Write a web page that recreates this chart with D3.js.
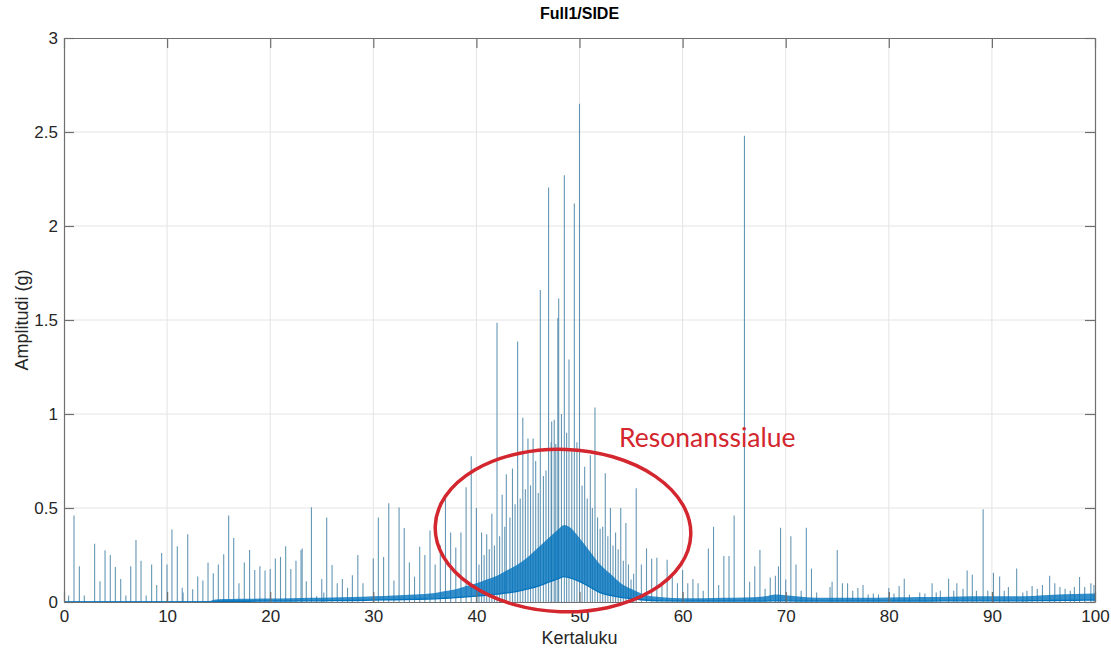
<!DOCTYPE html>
<html>
<head>
<meta charset="utf-8">
<script src="https://cdn.jsdelivr.net/npm/d3@7"></script>
<style>
  html, body { margin: 0; padding: 0; background: #fff; }
  svg { display: block; }
</style>
</head>
<body>
<svg id="chart" width="1111" height="653"></svg>
<script>
// Order spectrum of the SIDE channel: discrete harmonic lines plus a broadband noise floor.

const chartTitle = "Full1/SIDE";
const xLabel = "Kertaluku";
const yLabel = "Amplitudi (g)";
const xTicks = [0, 10, 20, 30, 40, 50, 60, 70, 80, 90, 100];
const yTicks = [0, 0.5, 1, 1.5, 2, 2.5, 3];
const yTickLabels = ["0", "0.5", "1", "1.5", "2", "2.5", "3"];

// Harmonic lines: order and amplitude (g)
const lineOrders = [
  0.45, 0.97, 1.49, 1.97, 2.97, 3.49, 3.98, 4.49, 4.98, 5.5, 6.0, 6.47, 6.98, 7.47, 7.97, 8.5, 8.99, 9.47, 9.99,
  10.47, 10.99, 11.47, 11.55, 12.0, 12.48, 12.97, 13.47, 13.97, 14.48, 14.97, 15.49, 15.97, 16.46, 16.97, 17.49,
  18.0, 18.5, 19.0, 19.5, 20.0, 20.5, 21.0, 21.5, 22.0, 22.5, 22.99, 23.1, 23.5, 24.0, 24.5, 25.0, 25.2, 25.48,
  26.0, 26.5, 27.0, 27.5, 27.97, 28.5, 29.0,
  30.0, 30.49, 31.0, 31.5, 32.0, 32.5, 33.0, 33.5, 34.0, 34.5, 35.0, 35.5, 36.0, 36.5, 37.0,
  37.5, 38.0, 38.5, 39.0, 39.5, 40.0, 40.5, 41.0, 41.5, 42.0, 42.5, 42.9, 43.5, 44.0, 44.5, 45.0,
  40.25, 40.75, 41.25, 41.75, 42.25, 42.75, 43.25, 43.75, 44.25, 44.75, 45.25,
  45.5, 45.75, 46.0, 46.2, 46.5, 46.75, 47.0, 47.25, 47.3, 47.55, 47.7, 47.9, 47.98, 48.25, 48.53, 48.75,
  48.98, 49.25, 49.5, 49.75, 50.0, 50.25, 50.5, 50.75, 51.05, 51.25, 51.5, 51.75, 52.0, 52.25, 52.5, 52.75,
  53.0, 53.25, 53.5, 53.75, 54.0, 54.25, 54.5, 54.75, 55.0, 55.25, 55.5, 56.0, 56.5, 57.0, 57.5, 58.0, 58.5,
  59.0, 59.5, 60.0, 60.5, 61.0, 61.5, 62.0, 62.5, 63.0, 63.5, 64.0, 64.5, 65.0, 66.0,
  66.5, 67.0, 67.5, 68.0, 68.5, 69.0, 69.3, 69.5, 70.0, 70.5, 71.0, 71.5, 72.0, 72.5, 73.0, 74.3, 74.5, 75.0,
  75.5, 76.0, 76.5, 77.0, 77.5, 78.0, 78.5, 79.0, 80.0, 80.5, 81.0, 81.5, 82.0, 83.0, 83.5, 84.2, 84.6, 85.0,
  85.8, 86.3, 86.6, 87.2, 87.6, 88.1, 88.5, 89.15, 89.6, 90.15, 90.75, 91.2, 91.6, 92.4, 93.0, 93.4, 93.9,
  94.4, 94.9, 95.6, 96.1, 96.6, 97.1, 97.6, 98.0, 98.5, 99.0, 99.6, 99.9
];
const lineAmps = [
  0.034, 0.46, 0.19, 0.034, 0.31, 0.11, 0.275, 0.25, 0.186, 0.122, 0.034, 0.19, 0.33, 0.22, 0.034, 0.2, 0.09, 0.26, 0.2,
  0.385, 0.296, 0.076, 0.05, 0.36, 0.068, 0.135, 0.115, 0.21, 0.153, 0.2, 0.254, 0.46, 0.34, 0.1, 0.21,
  0.277, 0.17, 0.19, 0.167, 0.175, 0.232, 0.24, 0.296, 0.175, 0.22, 0.277, 0.285, 0.11, 0.504, 0.03, 0.122, 0.05, 0.45,
  0.197, 0.1, 0.122, 0.076, 0.142, 0.25, 0.1,
  0.232, 0.449, 0.24, 0.525, 0.115, 0.502, 0.394, 0.21, 0.135, 0.294, 0.25, 0.38, 0.2, 0.3, 0.573,
  0.37, 0.29, 0.37, 0.61, 0.775, 0.5, 0.37, 0.36, 0.47, 1.485, 0.57, 0.68, 0.71, 1.385, 0.98, 0.87,
  0.2, 0.25, 0.28, 0.3, 0.35, 0.4, 0.45, 0.52, 0.55, 0.6, 0.62,
  0.87, 0.75, 0.58, 1.66, 0.67, 0.7, 2.205, 0.85, 0.96, 0.97, 0.84, 1.51, 1.615, 1.0, 2.27, 0.9,
  1.29, 0.8, 2.12, 0.85, 2.65, 0.62, 0.72, 0.55, 0.78, 0.5, 1.035, 0.45, 0.39, 0.4, 0.685, 0.35,
  0.5, 0.3, 0.37, 0.28, 0.5, 0.22, 0.42, 0.2, 0.12, 0.15, 0.605, 0.2, 0.285, 0.23, 0.235, 0.1, 0.225,
  0.135, 0.1, 0.17, 0.1, 0.122, 0.1, 0.06, 0.284, 0.4, 0.09, 0.245, 0.245, 0.46, 2.48,
  0.108, 0.19, 0.276, 0.07, 0.13, 0.14, 0.19, 0.395, 0.12, 0.35, 0.2, 0.06, 0.395, 0.178, 0.05, 0.08, 0.108, 0.276,
  0.1, 0.1, 0.06, 0.075, 0.09, 0.04, 0.045, 0.04, 0.075, 0.045, 0.085, 0.124, 0.04, 0.05, 0.045, 0.1, 0.05, 0.06,
  0.124, 0.06, 0.1, 0.07, 0.167, 0.145, 0.06, 0.493, 0.06, 0.156, 0.135, 0.06, 0.08, 0.178, 0.05, 0.06, 0.085,
  0.07, 0.09, 0.14, 0.1, 0.08, 0.07, 0.06, 0.08, 0.133, 0.08, 0.1, 0.09
];

// Broadband noise floor: order, lower and upper envelope (g)
const floorOrders = [0, 5, 10, 14, 14.5, 15, 16, 18, 20, 22, 24, 26, 28, 30, 32, 34, 36, 37, 38, 39, 40, 41, 42,
  43, 44, 45, 46, 47, 48, 48.5, 49, 50, 51, 52, 53, 54, 55, 56, 57, 58, 60, 62, 64, 66, 68, 69, 70, 71, 72, 74,
  76, 78, 80, 82, 84, 86, 88, 90, 92, 94, 96, 98, 100];
const floorLow = [0, 0, 0, 0, 0.002, 0.003, 0.004, 0.004, 0.005, 0.005, 0.006, 0.007, 0.008, 0.01, 0.012, 0.014,
  0.017, 0.02, 0.023, 0.027, 0.031, 0.036, 0.042, 0.048, 0.057, 0.07, 0.085, 0.105, 0.125, 0.135, 0.13, 0.11, 0.08,
  0.05, 0.035, 0.025, 0.018, 0.012, 0.008, 0.006, 0.005, 0.005, 0.005, 0.005, 0.005, 0.006, 0.006, 0.005, 0.005,
  0.005, 0.005, 0.005, 0.005, 0.005, 0.005, 0.006, 0.006, 0.006, 0.006, 0.007, 0.008, 0.009, 0.01];
const floorHigh = [0.003, 0.003, 0.003, 0.004, 0.012, 0.015, 0.016, 0.017, 0.018, 0.02, 0.022, 0.024, 0.026,
  0.03, 0.034, 0.04, 0.048, 0.058, 0.068, 0.085, 0.1, 0.12, 0.14, 0.17, 0.2, 0.24, 0.29, 0.34, 0.39, 0.41, 0.4,
  0.34, 0.27, 0.2, 0.15, 0.1, 0.07, 0.045, 0.03, 0.025, 0.02, 0.02, 0.022, 0.024, 0.03, 0.04, 0.036, 0.03,
  0.025, 0.022, 0.022, 0.022, 0.024, 0.025, 0.026, 0.028, 0.03, 0.03, 0.03, 0.032, 0.038, 0.042, 0.045];

// Annotation ellipse around the resonance band (data units)
const resonanceLabel = "Resonanssialue";
const ellipseCenter = [48.4, 0.38];
const ellipseRadii = [12.4, 0.432];

const svg = d3.select("#chart");
const W = 1111, H = 653;
const m = { left: 64, right: 16, top: 38, bottom: 51 };

const x = d3.scaleLinear().domain([0, 100]).range([m.left, W - m.right]);
const y = d3.scaleLinear().domain([0, 3]).range([H - m.bottom, m.top]);

const fontFamily = "'Liberation Sans', Arial, Helvetica, sans-serif";
const blue = "#0072BD";

// grid
const grid = svg.append("g");
grid.selectAll("line.gx").data(xTicks.slice(1, -1)).join("line")
  .attr("x1", d => x(d)).attr("x2", d => x(d))
  .attr("y1", y(0)).attr("y2", y(3))
  .attr("stroke", "#e4e4e4").attr("stroke-width", 1);
grid.selectAll("line.gy").data(yTicks.slice(1, -1)).join("line")
  .attr("x1", x(0)).attr("x2", x(100))
  .attr("y1", d => y(d)).attr("y2", d => y(d))
  .attr("stroke", "#e4e4e4").attr("stroke-width", 1);

const plot = svg.append("g");

// harmonic lines
const lines = lineOrders.map((o, i) => ({ o, a: lineAmps[i] }));
plot.selectAll("line.h").data(lines).join("line")
  .attr("x1", d => x(d.o)).attr("x2", d => x(d.o))
  .attr("y1", y(0)).attr("y2", d => y(d.a))
  .attr("stroke", "#4a85a8").attr("stroke-width", 1.1).attr("stroke-opacity", 0.85);

// noise floor band
const floorData = floorOrders.map((o, i) => ({ o, lo: floorLow[i], hi: floorHigh[i] }));
plot.append("path")
  .datum(floorData)
  .attr("d", d3.area().curve(d3.curveMonotoneX).x(d => x(d.o)).y0(d => y(d.lo)).y1(d => y(d.hi)))
  .attr("fill", blue).attr("fill-opacity", 0.8);
plot.append("path")
  .datum(floorData)
  .attr("d", d3.line().curve(d3.curveMonotoneX).x(d => x(d.o)).y(d => y(d.lo)))
  .attr("fill", "none").attr("stroke", blue).attr("stroke-width", 1.3);

// axes box with inward ticks on all sides
const axisColor = "#6f6f6f";
function styleAxis(g) {
  g.select(".domain").attr("stroke", axisColor).attr("stroke-width", 1.2);
  g.selectAll(".tick line").attr("stroke", axisColor).attr("stroke-width", 1.2);
  g.selectAll(".tick text").attr("fill", "#262626")
    .style("font-family", fontFamily).style("font-size", "17px");
}
svg.append("g").attr("transform", `translate(0,${y(0)})`)
  .call(d3.axisBottom(x).tickValues(xTicks).tickSize(-10).tickPadding(8).tickSizeOuter(0))
  .call(styleAxis);
svg.append("g").attr("transform", `translate(0,${y(3)})`)
  .call(d3.axisTop(x).tickValues(xTicks).tickSize(-10).tickFormat("").tickSizeOuter(0))
  .call(styleAxis);
svg.append("g").attr("transform", `translate(${x(0)},0)`)
  .call(d3.axisLeft(y).tickValues(yTicks).tickSize(-10).tickPadding(6).tickSizeOuter(0)
    .tickFormat((d, i) => yTickLabels[i]))
  .call(styleAxis);
svg.append("g").attr("transform", `translate(${x(100)},0)`)
  .call(d3.axisRight(y).tickValues(yTicks).tickSize(-10).tickFormat("").tickSizeOuter(0))
  .call(styleAxis);

// titles
svg.append("text")
  .attr("x", (x(0) + x(100)) / 2).attr("y", 19)
  .attr("text-anchor", "middle")
  .style("font-family", fontFamily).style("font-size", "16px").style("font-weight", "bold")
  .attr("fill", "#000").text(chartTitle);
svg.append("text")
  .attr("x", (x(0) + x(100)) / 2).attr("y", 644)
  .attr("text-anchor", "middle")
  .style("font-family", fontFamily).style("font-size", "18px")
  .attr("fill", "#262626").text(xLabel);
svg.append("text")
  .attr("transform", `translate(28,${(y(0) + y(3)) / 2}) rotate(-90)`)
  .attr("text-anchor", "middle")
  .style("font-family", fontFamily).style("font-size", "18px")
  .attr("fill", "#262626").text(yLabel);

// resonance annotation
const red = "#d3262e";
const ecx = x(ellipseCenter[0]), ecy = y(ellipseCenter[1]);
const erx = x(ellipseCenter[0] + ellipseRadii[0]) - ecx;
const ery = ecy - y(ellipseCenter[1] + ellipseRadii[1]);
svg.append("ellipse")
  .attr("cx", ecx).attr("cy", ecy).attr("rx", erx).attr("ry", ery)
  .attr("transform", `rotate(2,${ecx},${ecy})`)
  .attr("fill", "none").attr("stroke", red).attr("stroke-width", 3.5);
svg.append("text")
  .attr("x", 619).attr("y", 447)
  .style("font-family", "Lato, 'Open Sans', sans-serif").style("font-size", "26.5px")
  .attr("fill", red).text(resonanceLabel);
</script>
</body>
</html>
